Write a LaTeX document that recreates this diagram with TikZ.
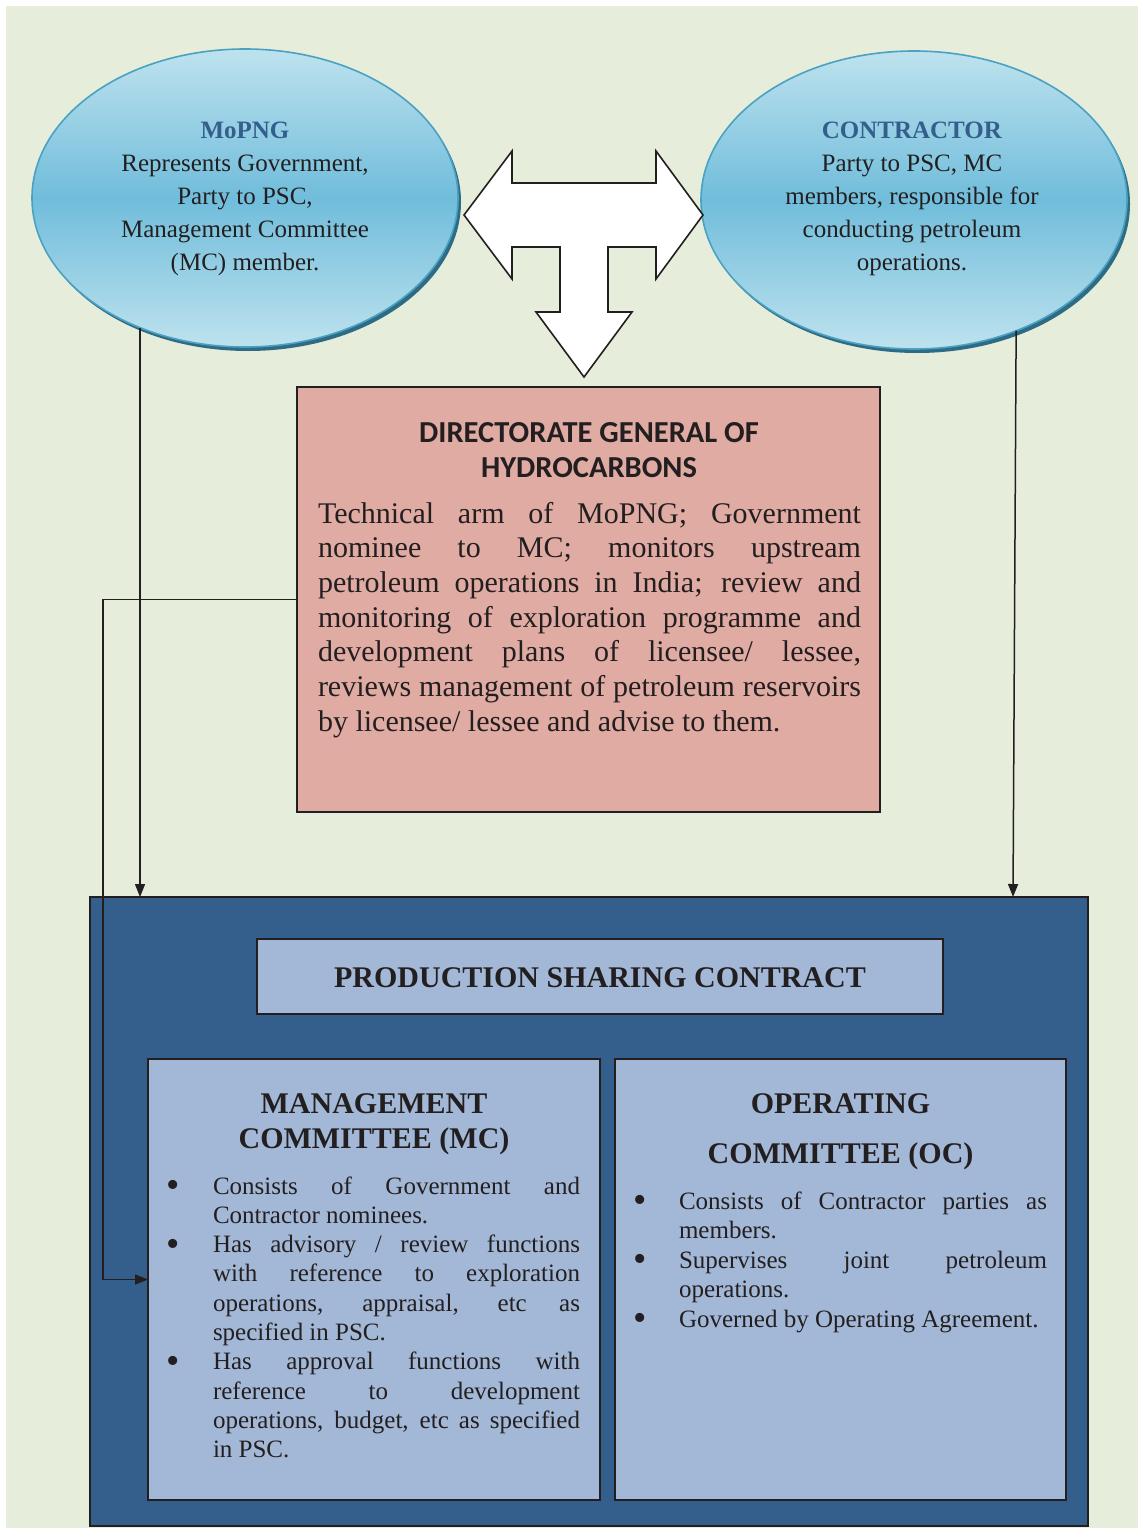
\documentclass[tikz,border=0pt]{standalone}
\usepackage{fontspec}
\setmainfont{Liberation Serif}
\newfontfamily\dghfont{Carlito}
\usetikzlibrary{shapes.geometric,arrows.meta}
\definecolor{bggreen}{RGB}{230,237,219}
\definecolor{inkc}{RGB}{35,31,32}
\definecolor{eLight}{RGB}{190,226,238}
\definecolor{eMid}{RGB}{112,189,219}
\definecolor{eBorder}{RGB}{74,161,194}
\definecolor{eShadow}{RGB}{45,108,132}
\definecolor{titleblue}{RGB}{52,95,140}
\definecolor{dghfill}{RGB}{224,171,163}
\definecolor{pscdark}{RGB}{52,94,139}
\definecolor{pale}{RGB}{163,184,214}
\newcommand\jl[2]{\makebox[#1][s]{\spaceskip=0pt\xspaceskip=0pt\relax#2}}
\newcommand\bul[1]{\makebox[#1][l]{\hspace*{-2pt}\raisebox{-3.5pt}{\fontsize{38pt}{0pt}\selectfont\textbullet}}}
\newcommand\ind[1]{\hspace*{#1}}
\newcommand\rs{\spaceskip=\fontdimen2\font\xspaceskip=\fontdimen2\font\relax}
\begin{document}
\begin{tikzpicture}[x=1pt,y=-1pt,
  ink/.style={draw=inkc, line width=1.6pt},
  conn/.style={draw=inkc, line width=1.5pt, -{Triangle[length=13pt,width=10pt]}},
  ell/.style={ellipse, minimum width=426pt, minimum height=298pt, inner sep=0pt, outer sep=0pt},
  ellface/.style={ell, draw=eBorder, line width=1.6pt, top color=eLight, bottom color=eLight, middle color=eMid},
  ellshadow/.style={ell, fill=eShadow},
  box/.style={rectangle, draw=inkc, line width=1.6pt, inner sep=0pt, outer sep=0pt},
  txt/.style={inner sep=0pt, outer sep=0pt, text=inkc},
]
\useasboundingbox (0,0) rectangle (1138,1528);
\fill[white] (0,0) rectangle (1138,1528);
\fill[bggreen] (6,6) rectangle (1138,1528);

% ellipses
\node[ellshadow] (mopngshadow) at (248,202) {};
\node[ellface] (mopng) at (245,198) {};
\node[ellshadow] (contractorshadow) at (917,204) {};
\node[ellface] (contractor) at (914,200) {};

% T-shaped block arrow
\draw[ink, fill=white, line join=miter] (464,215) -- (512,151) -- (512,183) -- (656,183) -- (656,151) -- (703,215) -- (656,279) -- (656,247) -- (608,247) -- (608,312) -- (632,312) -- (584,377) -- (536,312) -- (560,312) -- (560,247) -- (512,247) -- (512,279) -- cycle;

% boxes
\node[box, fill=dghfill, minimum width=583pt, minimum height=425pt] (dgh) at (588.5,599.5) {};
\node[box, fill=pscdark, minimum width=998pt, minimum height=629pt] (psc) at (589,1211.5) {};
\node[box, fill=pale, minimum width=686pt, minimum height=75pt] (psctitle) at (600,976.5) {};
\node[box, fill=pale, minimum width=452pt, minimum height=441pt] (mc) at (374,1279.5) {};
\node[box, fill=pale, minimum width=451pt, minimum height=441pt] (oc) at (840.5,1279.5) {};

% connectors
\coordinate (cEnd) at (1013,897);
\draw[conn] (mopng.231) -- (mopng.231 |- psc.north);
\draw[conn] (contractor.308) -- (cEnd);
\draw[conn] (dgh.west) -- ++(-194,0) |- (mc.west);

% texts
\node[txt, text width=400pt, align=center, anchor=base, font=\fontsize{25pt}{33pt}\selectfont] (mopngtext) at (245,138)
  {\rs\textcolor{titleblue}{\textbf{MoPNG}}\\Represents Government,\\Party to PSC,\\Management Committee\\(MC) member.};
\node[txt, text width=400pt, align=center, anchor=base, font=\fontsize{25pt}{33pt}\selectfont] (contractortext) at (912,138)
  {\rs\textcolor{titleblue}{\textbf{CONTRACTOR}}\\Party to PSC, MC\\members, responsible for\\conducting petroleum\\operations.};

\node[txt, text width=543pt, align=center, anchor=base, font=\dghfont\bfseries\fontsize{30.5pt}{35pt}\selectfont] (dghtitle) at (589,442)
  {\rs DIRECTORATE GENERAL OF\\HYDROCARBONS};
\node[txt, text width=543pt, align=left, anchor=base west, font=\fontsize{30pt}{34.7pt}\selectfont] (dghbody) at (318,523)
  {\rs\jl{543pt}{Technical arm of MoPNG; Government}\\
   \jl{543pt}{nominee to MC; monitors upstream}\\
   \jl{543pt}{petroleum operations in India; review and}\\
   \jl{543pt}{monitoring of exploration programme and}\\
   \jl{543pt}{development plans of licensee/ lessee,}\\
   \jl{543pt}{reviews management of petroleum reservoirs}\\
   by licensee/ lessee and advise to them.};

\node[txt, anchor=base, font=\bfseries\fontsize{30pt}{36pt}\selectfont] (psctext) at (600,987) {\rs PRODUCTION SHARING CONTRACT};

\node[txt, text width=440pt, align=center, anchor=base, font=\bfseries\fontsize{30pt}{35pt}\selectfont] (mctitle) at (374,1113)
  {\rs MANAGEMENT\\COMMITTEE (MC)};
\node[txt, text width=440pt, align=center, anchor=base, font=\bfseries\fontsize{30pt}{50pt}\selectfont] (octitle) at (840.5,1113)
  {\rs OPERATING\\COMMITTEE (OC)};

\node[txt, text width=420pt, align=left, anchor=base west, font=\fontsize{25pt}{29.3pt}\selectfont] (mcbody) at (168,1194)
  {\rs\bul{45pt}\jl{367pt}{Consists of Government and}\\
   \ind{45pt}Contractor nominees.\\
   \bul{45pt}\jl{367pt}{Has advisory / review functions}\\
   \ind{45pt}\jl{367pt}{with reference to exploration}\\
   \ind{45pt}\jl{367pt}{operations, appraisal, etc as}\\
   \ind{45pt}specified in PSC.\\
   \bul{45pt}\jl{367pt}{Has approval functions with}\\
   \ind{45pt}\jl{367pt}{reference to development}\\
   \ind{45pt}\jl{367pt}{operations, budget, etc as specified}\\
   \ind{45pt}in PSC.};
\node[txt, text width=420pt, align=left, anchor=base west, font=\fontsize{25pt}{29.5pt}\selectfont] (ocbody) at (635,1209)
  {\rs\bul{44pt}\jl{368pt}{Consists of Contractor parties as}\\
   \ind{44pt}members.\\
   \bul{44pt}\jl{368pt}{Supervises joint petroleum}\\
   \ind{44pt}operations.\\
   \bul{44pt}Governed by Operating Agreement.};
\end{tikzpicture}
\end{document}
